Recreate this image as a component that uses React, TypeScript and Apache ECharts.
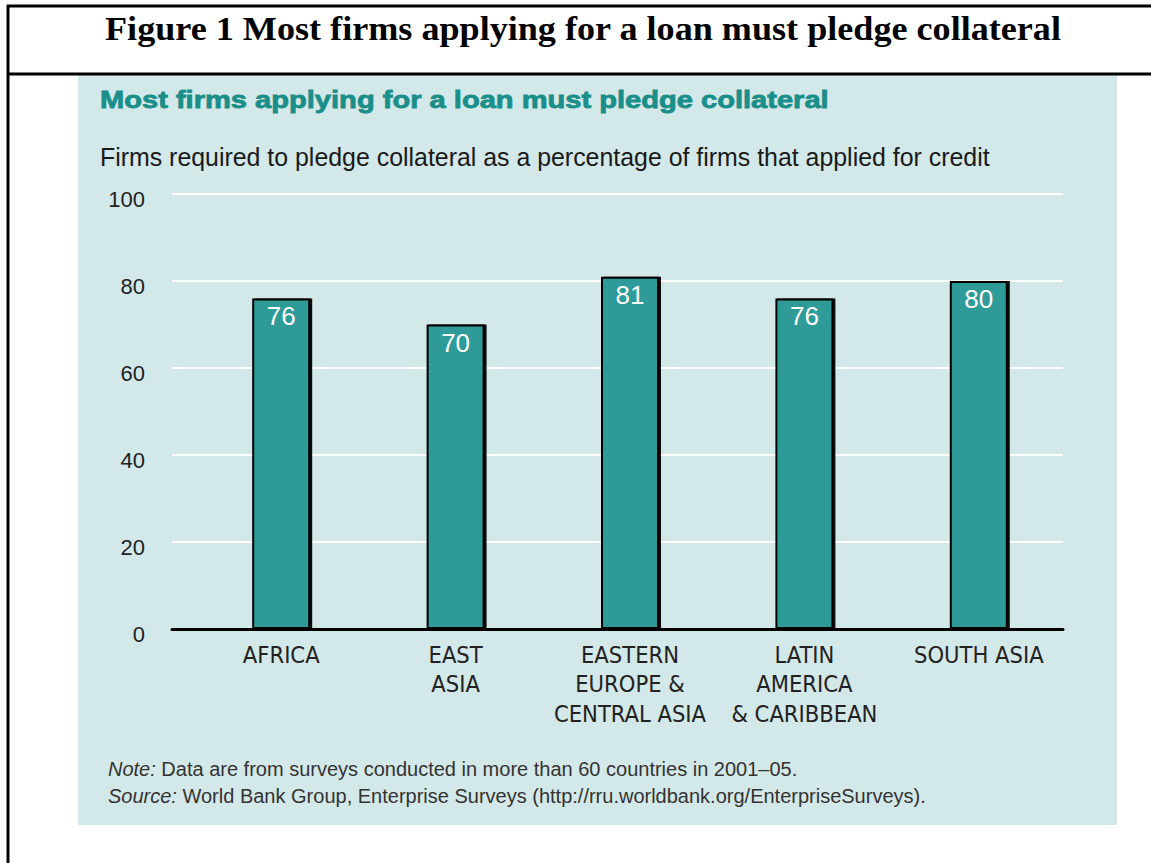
import React, { useEffect, useRef } from "react";
import * as echarts from "echarts";

const categories = [
  "AFRICA",
  "EAST\nASIA",
  "EASTERN\nEUROPE &\nCENTRAL ASIA",
  "LATIN\nAMERICA\n& CARIBBEAN",
  "SOUTH ASIA",
];
const values = [76, 70, 81, 76, 80];
const yTicks = [0, 20, 40, 60, 80, 100];

const figureTitle = "Figure 1 Most firms applying for a loan must pledge collateral";
const chartTitle = "Most firms applying for a loan must pledge collateral";
const chartSubtitle =
  "Firms required to pledge collateral as a percentage of firms that applied for credit";
const noteText = "Data are from surveys conducted in more than 60 countries in 2001\u201305.";
const sourceText =
  "World Bank Group, Enterprise Surveys (http://rru.worldbank.org/EnterpriseSurveys).";

const SANS = "'Liberation Sans', Arial, Helvetica, sans-serif";
const NARROW = "'DejaVu Sans Condensed', 'Liberation Sans', sans-serif";

export default function App() {
  const ref = useRef<HTMLDivElement>(null);
  useEffect(() => {
    if (!ref.current) return;
    const chart = echarts.init(ref.current, undefined, { renderer: "svg" });
    const option: any = {
      animation: false,
      backgroundColor: "#ffffff",
      graphic: [
        {
          type: "rect",
          z: -10,
          shape: { x: 78, y: 75, width: 1039, height: 750 },
          style: { fill: "#d3e8e8" },
        },
        {
          type: "line",
          shape: { x1: 7, y1: 6, x2: 1151, y2: 6 },
          style: { stroke: "#000", lineWidth: 3 },
        },
        {
          type: "line",
          shape: { x1: 7, y1: 74, x2: 1151, y2: 74 },
          style: { stroke: "#000", lineWidth: 3 },
        },
        {
          type: "line",
          shape: { x1: 8, y1: 5, x2: 8, y2: 863 },
          style: { stroke: "#000", lineWidth: 3 },
        },
        {
          type: "text",
          x: 583,
          y: 29,
          scaleX: 1.095,
          style: {
            text: figureTitle,
            fontFamily: "'Liberation Serif', 'Times New Roman', serif",
            fontWeight: "bold",
            fontSize: 33,
            fill: "#000",
            align: "center",
            verticalAlign: "middle",
          },
        },
        {
          type: "text",
          x: 100,
          y: 100,
          scaleX: 1.212,
          style: {
            text: chartTitle,
            fontFamily: SANS,
            fontWeight: "bold",
            fontSize: 24,
            fill: "#1a8f8a",
            verticalAlign: "middle",
            stroke: "#1a8f8a",
            lineWidth: 0.8,
          },
        },
        {
          type: "text",
          x: 100,
          y: 157,
          style: {
            text: chartSubtitle,
            fontFamily: SANS,
            fontSize: 24.9,
            fill: "#1a1a1a",
            verticalAlign: "middle",
          },
        },
        {
          type: "text",
          x: 108,
          y: 769,
          style: {
            text: "{i|Note:} " + noteText,
            fontFamily: SANS,
            fontSize: 20,
            fill: "#333",
            verticalAlign: "middle",
            rich: { i: { fontStyle: "italic", fontFamily: SANS, fontSize: 20, fill: "#333" } },
          },
        },
        {
          type: "text",
          x: 108,
          y: 796,
          style: {
            text: "{i|Source:} " + sourceText,
            fontFamily: SANS,
            fontSize: 20,
            fill: "#333",
            verticalAlign: "middle",
            rich: { i: { fontStyle: "italic", fontFamily: SANS, fontSize: 20, fill: "#333" } },
          },
        },
      ],
      grid: [
        { left: 172, right: 88, top: 194, bottom: 234 },
        { left: 194, right: 85, top: 194, bottom: 234 },
      ],
      xAxis: [
        {
          gridIndex: 0,
          type: "category",
          data: categories,
          axisLine: { show: true, lineStyle: { color: "#000", width: 3 } },
          axisTick: { show: false },
          axisLabel: { show: false },
          splitLine: { show: false },
        },
        {
          gridIndex: 1,
          type: "category",
          data: categories,
          axisLine: { show: false },
          axisTick: { show: false },
          axisLabel: {
            margin: 11,
            fontFamily: NARROW,
            fontSize: 23.5,
            lineHeight: 29.5,
            color: "#222",
            interval: 0,
          },
        },
      ],
      yAxis: [
        {
          gridIndex: 0,
          type: "value",
          min: yTicks[0],
          max: yTicks[yTicks.length - 1],
          interval: 20,
          axisLine: { show: false },
          axisTick: { show: false },
          splitLine: { show: true, lineStyle: { color: "#ffffff", width: 2 } },
          axisLabel: {
            margin: 27,
            formatter: (v: number) => "{a|" + v + "}",
            rich: {
              a: {
                fontFamily: SANS,
                fontSize: 22,
                color: "#222",
                padding: [11, 0, 0, 0],
              },
            },
          },
        },
        {
          gridIndex: 1,
          type: "value",
          min: yTicks[0],
          max: yTicks[yTicks.length - 1],
          show: false,
          splitLine: { show: false },
        },
      ],
      series: [
        {
          type: "bar",
          xAxisIndex: 1,
          yAxisIndex: 1,
          data: values,
          barWidth: 58,
          itemStyle: {
            color: "#2e9b98",
            borderColor: "#000",
            borderWidth: 2,
            shadowColor: "rgba(0,0,0,0.95)",
            shadowOffsetX: 2,
            shadowOffsetY: 0,
            shadowBlur: 0,
          },
          label: {
            show: true,
            position: "insideTop",
            distance: 5,
            color: "#ffffff",
            fontFamily: SANS,
            fontSize: 26,
          },
        },
      ],
    };
    chart.setOption(option);
    return () => chart.dispose();
  }, []);
  return (
    <div
      ref={ref}
      style={{ position: "absolute", left: 0, top: 0, width: 1151, height: 863 }}
    />
  );
}
